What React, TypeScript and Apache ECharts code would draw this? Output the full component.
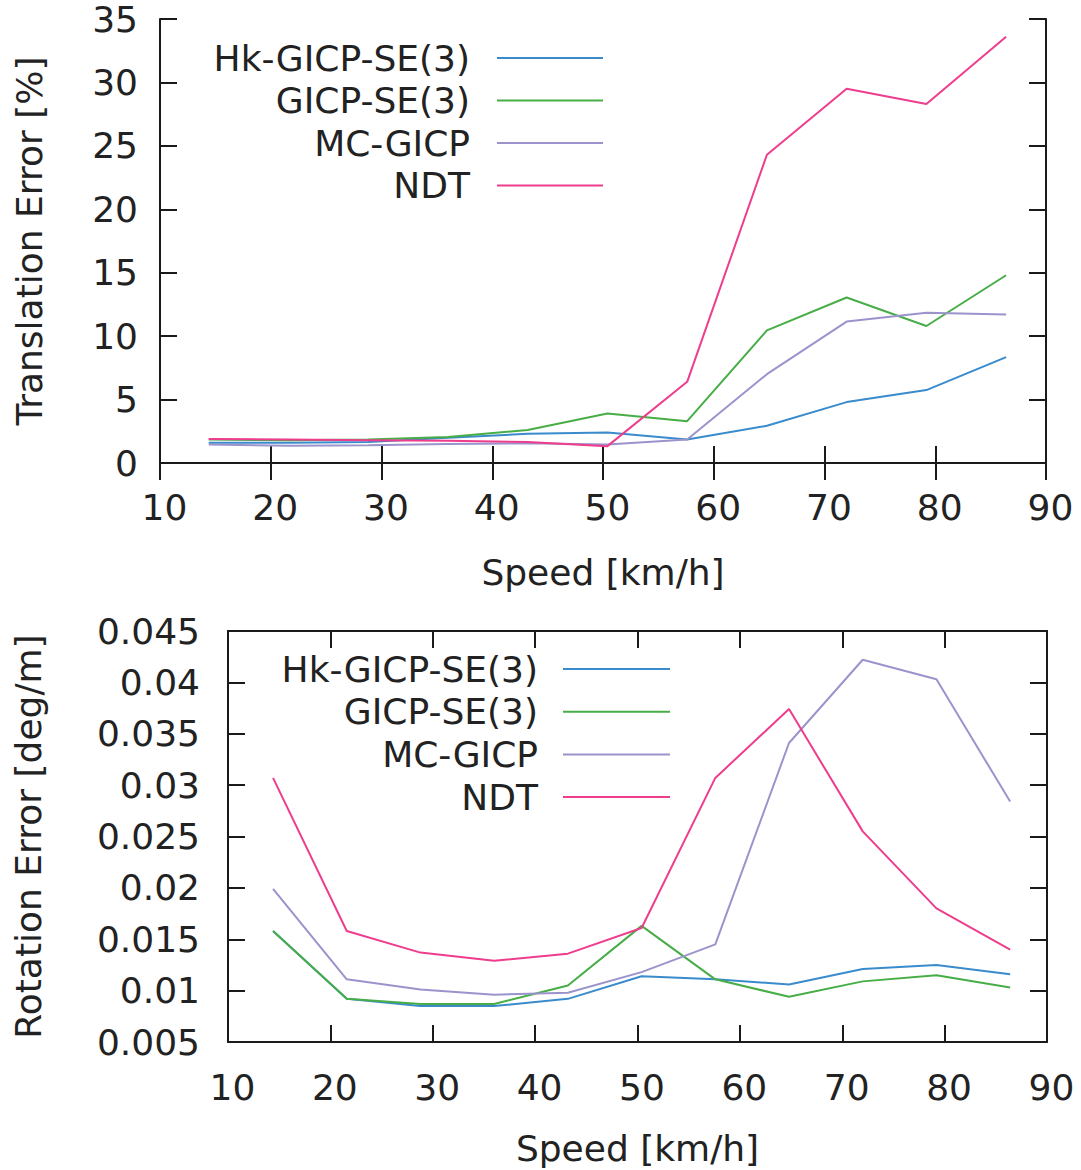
import React, { useEffect, useRef } from "react";
import * as echarts from "echarts";

const speeds = [14.4, 21.6, 28.8, 36.0, 43.2, 50.4, 57.6, 64.8, 72.0, 79.2, 86.4];
const seriesNames = ["Hk-GICP-SE(3)", "GICP-SE(3)", "MC-GICP", "NDT"];
const seriesColors = ["#3a8bcc", "#47ad47", "#9b93cc", "#ee3d8d"];

// Translation error [%]
const transHk = [1.6, 1.6, 1.65, 2.0, 2.3, 2.4, 1.86, 2.93, 4.8, 5.75, 8.35];
const transGicp = [1.85, 1.8, 1.85, 2.05, 2.6, 3.9, 3.3, 10.45, 13.05, 10.8, 14.8];
const transMc = [1.45, 1.35, 1.4, 1.5, 1.55, 1.45, 1.86, 7.0, 11.15, 11.85, 11.7];
const transNdt = [1.9, 1.85, 1.8, 1.75, 1.65, 1.33, 6.4, 24.3, 29.5, 28.3, 33.6];

// Rotation error [deg/m]
const rotHk = [0.0158, 0.0092, 0.0085, 0.0085, 0.0092, 0.0114, 0.0111, 0.0106, 0.0121, 0.0125, 0.0116];
const rotGicp = [0.0158, 0.0092, 0.0087, 0.0087, 0.0105, 0.0163, 0.0111, 0.0094, 0.0109, 0.0115, 0.0103];
const rotMc = [0.0199, 0.0111, 0.0101, 0.0096, 0.0098, 0.0118, 0.0145, 0.0341, 0.0422, 0.0403, 0.0284];
const rotNdt = [0.0307, 0.0158, 0.0137, 0.0129, 0.0136, 0.0161, 0.0307, 0.0374, 0.0255, 0.018, 0.0140];

const transData = [transHk, transGicp, transMc, transNdt];
const rotData = [rotHk, rotGicp, rotMc, rotNdt];

const FONT = "DejaVu Sans";
const TEXT = "#222222";
const AXIS = "#1a1a1a";

export default function App() {
  const ref = useRef<HTMLDivElement>(null);
  useEffect(() => {
    document.body.style.margin = "0";
    if (!ref.current) return;
    const chart = echarts.init(ref.current, undefined, { renderer: "svg" });

    const baseText = { fontFamily: FONT, fontSize: 36, color: TEXT };

    const xAxisCommon = (gridIndex: number, labelMargin: number, nameGap: number) => ({
      type: "value",
      gridIndex,
      min: 10,
      max: 90,
      interval: 10,
      position: "bottom",
      name: "Speed [km/h]",
      nameLocation: "middle",
      nameGap,
      nameTextStyle: { ...baseText },
      axisLine: { show: true, lineStyle: { color: AXIS, width: 2 } },
      axisTick: { show: true, inside: true, length: 17, lineStyle: { color: AXIS, width: 2 } },
      axisLabel: { ...baseText, margin: labelMargin, padding: [0, 0, 0, 9] },
      splitLine: { show: false },
    });
    const xAxisTop = (gridIndex: number) => ({
      type: "value",
      gridIndex,
      min: 10,
      max: 90,
      interval: 10,
      position: "top",
      axisLine: { show: true, lineStyle: { color: AXIS, width: 2 } },
      axisTick: { show: true, inside: true, length: 17, lineStyle: { color: AXIS, width: 2 } },
      axisLabel: { show: false },
      splitLine: { show: false },
    });

    const option: any = {
      animation: false,
      textStyle: { fontFamily: FONT },
      grid: [
        { left: 160, right: 35, top: 19, height: 444, containLabel: false },
        { left: 228, right: 34, top: 631, height: 411, containLabel: false },
      ],
      xAxis: [
        xAxisCommon(0, 26, 91),
        xAxisTop(0),
        xAxisCommon(1, 27, 88),
        xAxisTop(1),
      ],
      yAxis: [
        {
          type: "value",
          gridIndex: 0,
          min: 0,
          max: 35,
          interval: 5,
          position: "left",
          name: "Translation Error [%]",
          nameLocation: "middle",
          nameGap: 113,
          nameTextStyle: { ...baseText },
          axisLine: { show: true, lineStyle: { color: AXIS, width: 2 } },
          axisTick: { show: true, inside: true, length: 17, lineStyle: { color: AXIS, width: 2 } },
          axisLabel: { ...baseText, margin: 22 },
          splitLine: { show: false },
        },
        {
          type: "value",
          gridIndex: 0,
          min: 0,
          max: 35,
          interval: 5,
          position: "right",
          axisLine: { show: true, lineStyle: { color: AXIS, width: 2 } },
          axisTick: { show: true, inside: true, length: 17, lineStyle: { color: AXIS, width: 2 } },
          axisLabel: { show: false },
          splitLine: { show: false },
        },
        {
          type: "value",
          gridIndex: 1,
          min: 0.005,
          max: 0.045,
          interval: 0.005,
          position: "left",
          name: "Rotation Error [deg/m]",
          nameLocation: "middle",
          nameGap: 182,
          nameTextStyle: { ...baseText },
          axisLine: { show: true, lineStyle: { color: AXIS, width: 2 } },
          axisTick: { show: true, inside: true, length: 17, lineStyle: { color: AXIS, width: 2 } },
          axisLabel: {
            ...baseText,
            margin: 28,
            formatter: (v: number) => String(+v.toFixed(3)),
          },
          splitLine: { show: false },
        },
        {
          type: "value",
          gridIndex: 1,
          min: 0.005,
          max: 0.045,
          interval: 0.005,
          position: "right",
          axisLine: { show: true, lineStyle: { color: AXIS, width: 2 } },
          axisTick: { show: true, inside: true, length: 17, lineStyle: { color: AXIS, width: 2 } },
          axisLabel: { show: false },
          splitLine: { show: false },
        },
      ],
      legend: [
        {
          orient: "vertical",
          align: "right",
          right: 1081 - 603,
          top: 40,
          padding: 0,
          itemGap: 6.5,
          itemWidth: 106,
          itemHeight: 2,
          icon: "rect",
          data: seriesNames,
          textStyle: { ...baseText, lineHeight: 36, padding: [0, 22, 0, 0] },
        },
        {
          orient: "vertical",
          align: "right",
          right: 1081 - 670,
          top: 651,
          padding: 0,
          itemGap: 6.7,
          itemWidth: 107,
          itemHeight: 2,
          icon: "rect",
          data: seriesNames,
          textStyle: { ...baseText, lineHeight: 36, padding: [0, 20, 0, 0] },
        },
      ],
      series: [
        ...seriesNames.map((name, i) => ({
          name,
          type: "line",
          xAxisIndex: 0,
          yAxisIndex: 0,
          data: speeds.map((s, k) => [s, transData[i][k]]),
          showSymbol: false,
          symbol: "none",
          itemStyle: { color: seriesColors[i] },
          lineStyle: { color: seriesColors[i], width: 2 },
          z: 2 + i,
        })),
        ...seriesNames.map((name, i) => ({
          name,
          type: "line",
          xAxisIndex: 2,
          yAxisIndex: 2,
          data: speeds.map((s, k) => [s, rotData[i][k]]),
          showSymbol: false,
          symbol: "none",
          itemStyle: { color: seriesColors[i] },
          lineStyle: { color: seriesColors[i], width: 2 },
          z: 2 + i,
        })),
      ],
    };

    chart.setOption(option);
    return () => chart.dispose();
  }, []);

  return <div ref={ref} style={{ width: 1081, height: 1170 }} />;
}
